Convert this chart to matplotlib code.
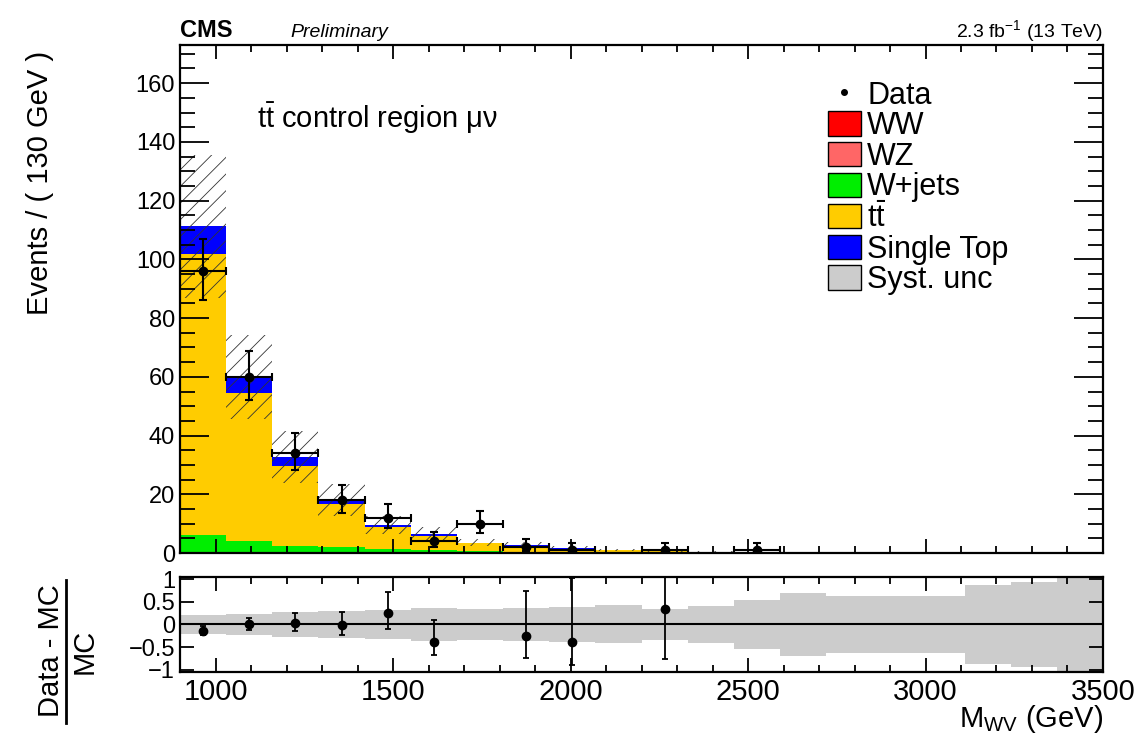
import numpy as np
import matplotlib.pyplot as plt
from matplotlib.patches import Patch
from matplotlib.lines import Line2D
from matplotlib.ticker import MultipleLocator

plt.rcParams['font.family'] = ['Liberation Sans', 'DejaVu Sans']
plt.rcParams['mathtext.fontset'] = 'custom'
plt.rcParams['mathtext.rm'] = 'Liberation Sans'
plt.rcParams['mathtext.it'] = 'Liberation Sans:italic'
plt.rcParams['mathtext.bf'] = 'Liberation Sans:bold'
plt.rcParams['hatch.linewidth'] = 0.6

# bins of 130 GeV from 900 to 3500
edges = np.arange(900, 3501, 130)

# MC backgrounds per bin
ww = [0.1, 0.08, 0.05, 0.05, 0.03, 0.03, 0.02, 0.02, 0.01, 0.01,
      0.01, 0.01, 0.01, 0.0, 0.0, 0.0, 0.0, 0.0, 0.0, 0.0]
wz = [0.1, 0.07, 0.05, 0.05, 0.02, 0.02, 0.01, 0.01, 0.01, 0.01,
      0.01, 0.01, 0.0, 0.0, 0.0, 0.0, 0.0, 0.0, 0.0, 0.0]
wjets = [6.0, 3.9, 2.2, 1.8, 1.3, 0.9, 0.6, 0.45, 0.3, 0.2,
         0.15, 0.1, 0.08, 0.06, 0.05, 0.04, 0.03, 0.02, 0.02, 0.01]
ttbar = [95.5, 50.3, 27.5, 14.8, 7.6, 5.0, 2.8, 2.0, 1.2, 0.7,
         0.5, 0.3, 0.2, 0.15, 0.1, 0.08, 0.06, 0.04, 0.03, 0.02]
stop = [9.5, 5.6, 2.8, 1.5, 0.7, 0.6, 0.15, 0.2, 0.1, 0.08,
        0.08, 0.05, 0.04, 0.03, 0.02, 0.02, 0.01, 0.01, 0.01, 0.01]
# relative systematic uncertainty
syst = [0.22, 0.24, 0.27, 0.30, 0.32, 0.36, 0.35, 0.37, 0.38, 0.42,
        0.35, 0.40, 0.54, 0.69, 0.63, 0.64, 0.64, 0.87, 0.94, 1.05]

# data with poisson errors
data = [96, 60, 34, 18, 12, 4, 10, 2, 1, 0, 1, 0, 1, 0, 0, 0, 0, 0, 0, 0]
data_lo = [9.78, 7.73, 5.80, 4.22, 3.41, 1.91, 3.11, 1.29, 0.83, 0,
           0.83, 0, 0.83, 0, 0, 0, 0, 0, 0, 0]
data_hi = [10.83, 8.79, 6.88, 5.30, 4.61, 3.16, 4.26, 2.64, 2.30, 0,
           2.30, 0, 2.30, 0, 0, 0, 0, 0, 0, 0]

samples = [('WW', ww, '#ff0000'), ('WZ', wz, '#ff6666'),
           ('W+jets', wjets, '#00ee00'), (r'$\mathrm{t\bar{t}}$', ttbar, '#ffcc00'),
           ('Single Top', stop, '#0000ff')]

fig = plt.figure(figsize=(11.43, 7.35), dpi=100)
ax = fig.add_axes([0.1575, 0.2476, 0.8075, 0.6912])
rax = fig.add_axes([0.1575, 0.0857, 0.8075, 0.1293])

left = edges[:-1]
centers = left + 65
bottom = np.zeros(len(left))
for name, vals, col in samples:
    vals = np.array(vals)
    ax.bar(left, vals, width=130, bottom=bottom, align='edge', color=col, linewidth=0)
    bottom = bottom + vals
total = bottom
syst = np.array(syst)

ax.bar(left, 2 * total * syst, width=130, bottom=total * (1 - syst), align='edge',
       fill=False, hatch='//', edgecolor='#333333', linewidth=0)

data = np.array(data, dtype=float)
lo = np.array(data_lo)
hi = np.array(data_hi)
m = data > 0
ax.errorbar(centers[m], data[m], yerr=[lo[m], hi[m]], xerr=65, fmt='o', color='black',
            markersize=6, elinewidth=1.5, capsize=3, capthick=1.5)

ax.set_xlim(900, 3500)
ax.set_ylim(0, 173)
ax.xaxis.set_major_locator(MultipleLocator(500))
ax.xaxis.set_minor_locator(MultipleLocator(100))
ax.yaxis.set_major_locator(MultipleLocator(20))
ax.yaxis.set_minor_locator(MultipleLocator(5))
ax.tick_params(which='both', direction='in', top=True, right=True, labelbottom=False,
               labelsize=17, width=1.3)
ax.tick_params(axis='y', which='major', length=21)
ax.tick_params(axis='y', which='minor', length=11)
ax.tick_params(axis='x', which='major', length=10)
ax.tick_params(axis='x', which='minor', length=5)
for s in ax.spines.values():
    s.set_linewidth(1.6)

ax.text(0.083, 0.855, r'$\mathrm{t\bar{t}}$ control region μν', transform=ax.transAxes,
        fontsize=21, va='center')

handles = [Line2D([], [], marker='o', color='black', linestyle='none', markersize=4)]
labels = ['Data']
for name, vals, col in samples:
    handles.append(Patch(facecolor=col, edgecolor='black', linewidth=1))
    labels.append(name)
handles.append(Patch(facecolor='#cccccc', edgecolor='black', linewidth=1))
labels.append('Syst. unc')
ax.legend(handles, labels, loc='upper left', bbox_to_anchor=(0.685, 0.96), frameon=False,
          fontsize=22, handlelength=1.1, handleheight=0.85, handletextpad=0.2,
          labelspacing=0.02, borderpad=0)

# ratio panel
ratio = (data - total) / total
r_lo = lo / total
r_hi = hi / total
rm = m & (np.abs(ratio) <= 1.05)
rax.bar(left, 2 * syst, width=130, bottom=-syst, align='edge', color='#cccccc', linewidth=0)
rax.axhline(0, color='black', linewidth=1.5)
rax.errorbar(centers[rm], ratio[rm], yerr=[r_lo[rm], r_hi[rm]], fmt='o', color='black',
             markersize=6, elinewidth=1.3, capsize=2, capthick=1.3)
rax.set_xlim(900, 3500)
rax.set_ylim(-1.05, 1.05)
rax.set_yticks([-1, -0.5, 0, 0.5, 1])
rax.set_yticklabels(['\u22121', '\u22120.5', '0', '0.5', '1'])
rax.xaxis.set_major_locator(MultipleLocator(500))
rax.xaxis.set_minor_locator(MultipleLocator(100))
rax.tick_params(which='both', direction='in', top=True, right=True, labelsize=17, width=1.3)
rax.tick_params(axis='both', which='major', length=10)
rax.tick_params(axis='x', which='minor', length=5)
rax.tick_params(axis='x', labelsize=21, pad=4)
for s in rax.spines.values():
    s.set_linewidth(1.6)

fig.text(180 / 1143, 1 - 37 / 735, 'CMS', fontsize=17, fontweight='bold', ha='left', va='baseline')
fig.text(290 / 1143, 1 - 37 / 735, 'Preliminary', fontsize=14, style='italic', ha='left',
         va='baseline')
fig.text(1103 / 1143, 1 - 37 / 735, r'2.3 fb$^{-1}$ (13 TeV)', fontsize=14, ha='right',
         va='baseline')
fig.text(40 / 1143, 1 - 183 / 735, 'Events / ( 130 GeV )', fontsize=21, rotation=90,
         ha='center', va='center')

# ratio y label drawn as a fraction
fig.text(51 / 1143, 1 - 651 / 735, 'Data - MC', fontsize=21, rotation=90,
         ha='center', va='center')
fig.add_artist(Line2D([66 / 1143, 66 / 1143], [1 - 580 / 735, 1 - 723 / 735],
                      color='black', linewidth=2))
fig.text(85 / 1143, 1 - 651 / 735, 'MC', fontsize=21, rotation=90,
         ha='center', va='center')

fig.text(1103 / 1143, 1 - 727 / 735, r'M$_{\mathrm{WV}}$ (GeV)', fontsize=21, ha='right',
         va='baseline')

fig.savefig('out.png', dpi=100)
